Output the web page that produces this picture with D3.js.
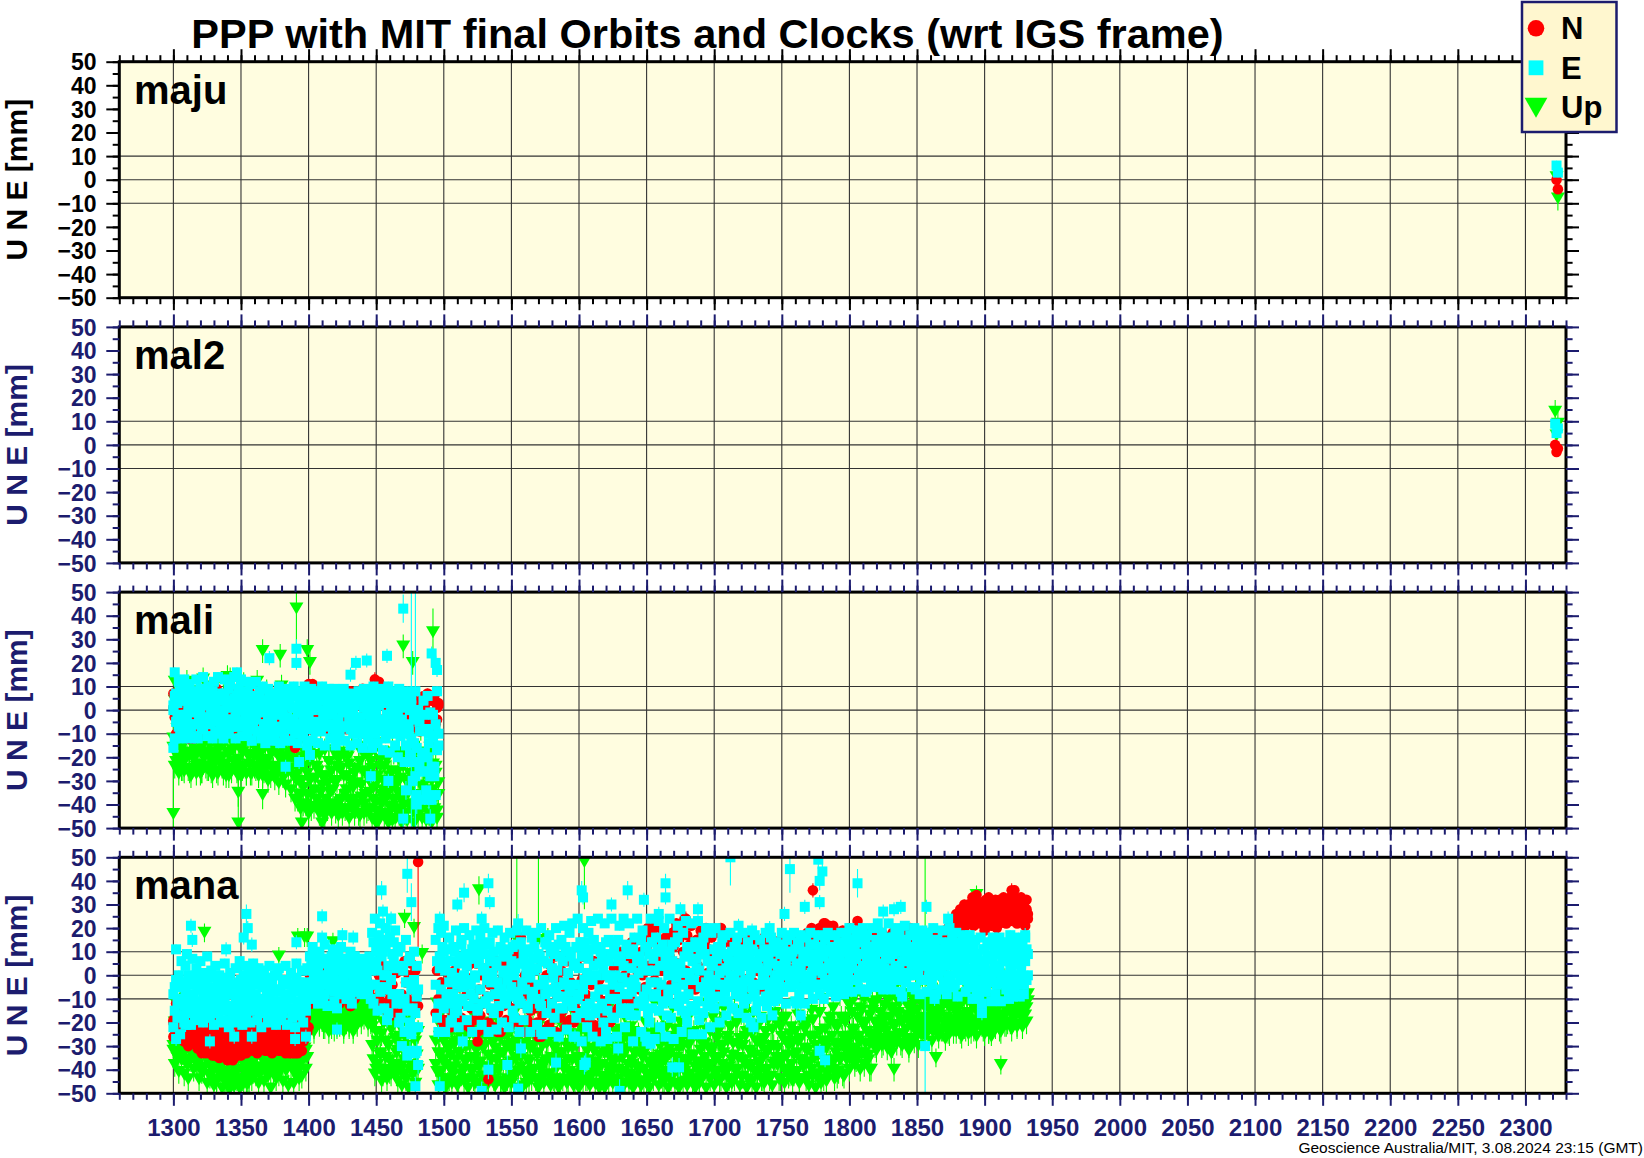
<!DOCTYPE html>
<html><head><meta charset="utf-8">
<script src="https://cdn.jsdelivr.net/npm/d3@7"></script>
<style>body{margin:0;background:#fff;}svg{display:block;font-family:"Liberation Sans",Arial,Helvetica,sans-serif;}</style>
</head><body>
<svg id="c" width="1644" height="1158"></svg>
<script>
// ---------------- DATA ----------------
const titleText = "PPP with MIT final Orbits and Clocks (wrt IGS frame)";
const footerText = "Geoscience Australia/MIT, 3.08.2024 23:15 (GMT)";
const stationNames = ["maju", "mal2", "mali", "mana"];
const xDomain = [1260, 2330];   // GPS week
const yDomain = [-50, 50];
const xTickValues = [1300,1350,1400,1450,1500,1550,1600,1650,1700,1750,1800,1850,1900,1950,2000,2050,2100,2150,2200,2250,2300];
const yTickValues = [-50,-40,-30,-20,-10,0,10,20,30,40,50];
const yGridValues = [-10, 0, 10];
const legendKeys = ["N", "E", "Up"];
const sigmaDefault = {N: 2, E: 2, U: 5};

// maju
const majuWeeks = [2323, 2324];
const majuN = [0, -4];
const majuE = [6, 3];
const majuU = [1, -8];
// mal2
const mal2Weeks = [2322, 2323, 2324];
const mal2N = [0, -3, -1.5];
const mal2E = [9, 5, 7];
const mal2U = [14, 4, 9];

// mali: two samples per week, weeks 1300..1496
const maliFirstWeek = 1300;
const maliE = [
2,-12,7,-4,12,-10,
4,-12,13,-2,8,-9,11,0,-11,6,
-6,13,-12,3,9,-8,14,-3,6,-11,
10,-5,1,-12,12,-9,5,14,-1,-10,
7,-12,13,-4,2,-10,11,-7,4,14,
-12,0,9,-6,13,-11,5,-2,12,-9,
3,11,-13,6,-4,12,-9,1,8,-12,
10,-6,-14,4,9,-11,0,-3,7,-13,
5,-9,10,-14,-2,8,-12,3,-6,9,
-13,6,-4,10,-10,1,-14,8,-7,4,
-11,10,-3,-15,6,-8,9,-13,2,-5,
8,-14,4,-9,10,-2,-15,6,-6,9,
-12,2,-8,9,-15,5,-4,-11,8,-1,
9,-13,3,-7,7,-15,0,-10,6,-4,
-14,8,-6,4,-16,9,-9,1,-12,7,
-3,-16,10,-10,5,-14,2,-7,9,-17,
6,-12,-2,10,-18,3,-8,8,-15,0,
-20,9,-11,-4,6,-22,-15,8,-8,-19,
2,-30,-14,8,-36,-22,-5,-38,-26,4,
-18,-34,6,-10,-28,-38,-2,-24,-36,8,
-15];
const maliE2 = [
0,6,-5,3,-7,8,
-2,9,-6,4,-4,1,7,-7,5,-1,
3,-6,8,-3,0,6,-7,2,9,-4,
-6,5,-1,8,-5,2,6,-3,0,-7,
4,-2,7,-6,1,9,-4,3,-7,5,
-3,6,-7,2,8,-5,0,4,-6,7,
-5,2,5,-8,0,-3,6,-9,3,-1,
1,-6,4,-9,-2,6,-4,2,-8,0,
-7,3,-1,5,-9,0,-5,6,-3,2,
4,-8,1,-4,6,-6,-1,3,-9,0,
-4,5,-8,2,-2,6,-6,0,4,-9,
2,-5,6,-8,0,-3,5,-7,3,-1,
-6,4,-2,6,-9,1,-4,5,-7,0,
3,-7,0,5,-4,-8,6,-2,2,-6,
-8,4,-3,6,-10,1,-6,5,-2,-9,
2,-7,5,-10,0,-4,6,-8,3,-5,
-9,4,-2,6,-6,0,-10,3,-4,5,
-3,6,-8,1,-10,4,-6,2,-9,0,
-12,-22,-4,-28,-16,0,-24,-9,-19,-2,
-26,-8,-20,-14,-1,-24,-11,-28,-6,-17,
-10];
const maliN = [
7,-3,-10,5,-7,2,
-4,8,-9,-1,-11,-12,6,-10,3,-5,
7,-8,0,-3,9,-6,4,-9,1,6,
-5,8,-2,-8,5,-4,9,-7,2,-1,
6,-9,3,-3,8,-6,0,7,-8,4,
-2,9,-7,5,-4,1,-9,7,-5,3,
8,-6,2,-9,6,-1,4,-8,9,-3,
-7,5,-12,8,-4,2,-9,6,-2,-11,
4,-6,9,-3,-8,5,-1,7,-10,2,
-5,8,-9,1,-15,6,-3,-10,4,-7,
3,-4,9,-8,11,-1,-6,5,-9,8,
-3,7,-7,2,-5,8,0,-8,6,-2,
7,-6,3,-9,5,-1,8,-5,2,-7,
-4,6,-8,4,-2,8,-6,1,-9,5,
2,-7,6,-3,9,-10,4,-5,7,-1,
-6,5,-2,8,-9,3,12,-4,6,-8,
4,-7,1,-3,8,-5,2,-9,6,-2,
-4,7,-8,3,-1,5,-6,2,-3,6,
-2,5,-7,3,-4,1,-9,4,-6,6,
2,-5,7,-1,-8,4,-3,6,-6,1,
3];
const maliU = [
-12,4,-22,-8,10,-16,
-25,2,-14,-21,12,-9,-26,-3,6,-19,
-12,-24,8,-5,-27,-16,13,-20,-2,-25,
4,-18,-26,-8,10,-22,-13,-27,0,-15,
-24,6,-11,-28,14,-19,-4,-26,-14,8,
-22,-9,-28,2,-17,-25,11,-13,-27,-6,
-20,-27,5,-15,-24,-10,12,-26,-2,-18,
-28,-12,-22,8,-30,-17,-5,-25,-14,-29,
0,-24,-31,-15,10,-28,-20,-32,-8,-26,
-18,-34,-6,-28,-38,-22,-12,-36,4,-30,
-40,-24,-14,-36,8,-30,-42,-20,-34,-8,
-38,-26,-44,-16,-32,-40,2,-28,-42,-22,
-35,-44,-12,-30,-40,-24,-45,-18,-38,-4,
-28,-42,-34,-20,-46,-30,-10,-38,-44,-25,
-40,-16,-45,-32,-26,-44,-36,-6,-42,-30,
-22,-46,-38,-14,-43,-30,-47,-24,-40,-34,
-45,-20,-36,-48,-28,-42,-10,-38,-46,-32,
-26,-44,-38,-48,-18,-40,-30,-47,-35,-12,
-42,-28,-48,-36,-22,-45,-40,-8,-46,-32,
-38,-47,-26,-44,-16,-48,-34,-42,-24,-46,
-36];
const maliU2 = [
-16,-24,-13,-20,-27,-15,
-22,-14,-26,-18,-12,-25,-19,-28,-15,-21,
-13,-27,-17,-23,-14,-26,-20,-12,-24,-18,
-25,-15,-21,-28,-13,-19,-26,-16,-22,-12,
-20,-27,-14,-23,-18,-28,-12,-25,-17,-22,
-15,-26,-21,-13,-28,-18,-24,-14,-27,-19,
-23,-12,-27,-19,-15,-25,-20,-28,-13,-22,
-17,-26,-14,-24,-21,-12,-28,-18,-25,-15,
-27,-19,-13,-26,-22,-16,-28,-14,-23,-20,
-14,-25,-18,-28,-21,-30,-38,-26,-42,-20,
-33,-18,-40,-27,-44,-22,-36,-16,-41,-29,
-24,-42,-19,-35,-28,-44,-17,-38,-31,-22,
-40,-26,-34,-18,-43,-30,-21,-39,-25,-44,
-19,-36,-28,-42,-23,-38,-16,-33,-27,-41,
-31,-44,-22,-37,-18,-40,-26,-43,-20,-35,
-42,-25,-33,-17,-39,-28,-44,-21,-36,-30,
-24,-38,-44,-20,-34,-26,-41,-18,-30,-43,
-35,-19,-29,-42,-24,-37,-44,-22,-32,-27,
-20,-40,-30,-44,-26,-36,-18,-42,-33,-24,
-41,-28,-36,-19,-44,-30,-23,-38,-27,-43,
-31];
// mali isolated points: [week, value, sigma]
const maliEextra = [[1301,16,2],[1300,-16,2],[1313,-12,2],[1347,16,2],[1371,22,3],[1383,-24,3],[1391,26,4],[1391,20,3],[1393,-22,3],[1401,-19,3],[1431,15,3],[1435,20,3],[1443,21,3],[1446,-28,3],[1458,23,3],[1459,-30,3],[1470,43,6],[1470,-46,4],[1472,-34,4],[1476,5,60],[1479,0,60],[1480,-40,4],[1489,-38,4],[1490,-46,4],[1491,24,3],[1494,20,3],[1495,17,3]];
const maliNextra = [[1300,1,2],[1312,-10,2],[1315,-12,2],[1371,-13,2],[1390,-16,2],[1403,11,2],[1411,8,2],[1449,13,3],[1460,8,2],[1487,6,2],[1496,2,2],[1495,-4,2]];
const maliUextra = [[1391,43,22],[1366,25,5],[1379,23,5],[1399,25,5],[1401,20,5],[1470,27,5],[1477,20,5],[1492,33,10],[1342,14,4],[1301,12,4],[1300,-44,27],[1348,-48,12],[1348,-35,6],[1366,-36,6],[1307,-25,5],[1321,-26,5],[1395,-48,20],[1410,-48,25],[1412,-45,6],[1432,-40,6],[1450,-48,6],[1462,-47,20]];

// mana: samples per week, weeks 1300..1932
const manaFirstWeek = 1300;
const manaE = [
-22,-5,11,-18,0,-25,6,
-10,-20,4,9,-15,-3,-21,7,-8,-17,
3,-12,-19,6,-6,-20,1,-14,8,-9,
-18,2,-11,-21,4,-7,-16,0,-20,-3,
-13,5,-19,-8,-22,1,-15,-4,-20,3,
-10,-17,6,-2,-21,-12,4,-18,-6,1,
-20,-9,5,-14,-1,-19,3,-11,-22,-5,
2,-16,-8,-20,4,-12,-3,-18,0,-21,
-7,3,-15,-19,-2,-11,4,-21,-9,-14,
1,-18,-6,-22,5,-12,-3,-17,2,-20,
-8,-15,3,-5,8,-10,12,0,-7,6,
-12,10,-3,5,-9,13,-1,-13,7,2,
-6,11,-11,4,-14,9,-2,12,-8,1,
7,-10,3,-5,10,-12,0,8,-7,4,
-4,6,-8,2,7,-2,4,-6,8,-10,
18,-12,24,5,-15,12,22,-5,10,-14,
20,0,-16,15,24,-8,6,19,-12,10,
-20,12,-30,2,-10,15,-34,-3,8,-25,
-14,10,-33,4,-22,null,null,null,null,null,
null,null,null,null,null,null,null,15,-18,20,
3,18,-12,10,-24,6,-8,16,-20,1,
12,-16,19,-4,-22,8,15,-10,20,-2,
-19,7,17,-8,-24,13,0,19,-14,5,
16,-21,2,20,-11,9,-24,14,-3,18,
-16,6,-23,19,-7,11,-20,1,16,-12,
8,-22,18,-5,12,-18,3,19,-10,-24,
14,-3,-19,10,19,-13,5,-24,16,-7,
2,18,-21,9,-12,20,-25,6,14,-16,
-6,17,-24,3,12,-18,20,-9,-26,8,
15,-14,21,-4,-23,10,18,-11,22,-26,
5,-18,24,-8,14,-28,20,-2,10,-22,
18,-12,23,-26,4,-16,12,24,-6,-28,
9,-20,22,0,-27,15,-10,24,-4,-18,
14,-26,6,21,-14,-1,24,-22,10,-8,
22,-17,3,-28,16,-5,24,-12,8,-24,
19,-9,-26,12,2,-20,24,-14,7,-27,
16,-3,23,-22,10,-12,20,-26,4,-8,
24,-18,6,-27,14,-5,21,-13,1,-24,
18,-10,23,-20,8,-2,22,-25,12,-15,
3,23,-19,10,-25,16,-7,20,-13,0,
-22,18,6,-14,20,-4,12,-20,2,16,
-11,17,-17,8,-3,18,-14,4,12,-8,
16,-16,2,-7,18,-12,9,-18,14,-2,
-20,11,-9,17,-15,4,-4,15,-18,8,
0,18,-13,6,-6,16,-17,10,-2,14,
-10,12,3,18,-7,8,-12,15,0,17,
-5,10,18,-11,4,14,-8,17,-1,9,
-12,16,6,-6,18,1,-10,13,7,-4,
17,-8,11,3,-10,15,-3,18,5,-7,
12,-1,17,-9,8,14,-5,18,2,-8,
10,16,-4,20,3,-7,13,7,19,-2,
15,-6,9,20,1,-7,17,5,12,-3,
20,6,-5,14,22,-1,10,18,-6,3,
16,-4,22,8,-6,13,2,20,-2,11,
19,-7,6,15,21,-3,9,0,17,-5,
12,20,-6,4,16,-8,8,19,-2,13,
-7,18,2,10,-4,20,6,-8,15,0,
11,-6,19,4,14,-8,8,20,-2,16,
-5,10,18,-9,3,14,-2,17,6,-7,
13,-4,17,1,-10,9,15,-6,5,-9,
16,-12,3,11,-7,14,-2,8,-11,16,
4,-8,12,-3,16,-11,7,0,14,-6,
10,-10,17,2,-5,13,-1,8,16,-9,
5,12,-8,16,-2,9];
const manaE2 = [
-8,-15,-2,-12,-5,-17,-10,
-3,-13,-7,-16,0,-9,-14,-4,-11,-1,
-15,-6,-2,-12,-17,-8,-4,-13,-1,-10,
-5,-14,-9,-1,-16,-11,-3,-12,-7,-15,
-2,-10,-6,-15,-1,-13,-8,-17,-4,-11,
-14,-3,-12,-7,-16,0,-9,-5,-13,-2,
-6,-15,-11,0,-8,-4,-13,-16,-2,-10,
-12,-5,-1,-14,-9,-17,-3,-7,-15,-6,
0,-11,-6,-13,-16,-4,-9,-2,-14,-8,
-10,-4,-15,-7,-1,-16,-11,-5,-13,-8,
-3,-12,-7,2,-6,5,-3,8,-8,1,
4,-5,7,-2,0,-8,6,-4,3,-6,
8,-1,-7,5,-3,2,-8,6,-5,0,
-4,7,-6,1,-8,4,-2,8,-5,3,
0,-6,5,-3,-7,3,-1,6,-4,2,
6,14,-4,10,2,17,-7,8,15,0,
12,-6,4,16,-2,9,14,-8,3,11,
-8,-18,4,-12,-24,-3,-15,6,-20,-6,
-22,-2,-16,-9,-6,null,null,null,null,null,
null,null,null,null,null,null,null,-4,6,-12,
8,-6,12,-14,2,-9,11,-3,6,-12,
-8,10,-1,-15,5,-11,13,-5,0,9,
4,-13,8,-4,11,-10,-1,7,-15,12,
-6,9,-12,3,13,-2,-9,6,-14,1,
10,-8,4,-3,-13,12,-6,8,-10,2,
-2,11,-9,6,-15,0,13,-7,5,-11,
-12,5,9,-6,1,-14,11,-1,-9,7,
12,-10,3,-4,8,-13,6,-2,-8,13,
5,-7,10,-12,-1,9,-5,2,13,-14,
-9,6,-3,12,-11,1,-7,8,-13,4,
-4,12,-10,3,-16,8,-6,14,-13,1,
7,-17,11,-2,15,-9,0,-14,5,10,
-12,3,-6,14,-15,6,-1,9,-18,12,
0,-10,15,-5,8,-16,4,-8,13,-3,
-14,9,-7,11,-2,-17,6,1,-11,15,
5,-13,12,-6,-16,9,-3,14,-9,2,
-8,11,-15,4,-4,13,-11,7,-17,0,
10,-6,13,-12,3,-1,16,-9,5,-15,
-4,8,-16,12,-8,1,-13,6,-2,14,
7,-11,2,-5,13,-16,9,-3,6,-10,
-6,4,-10,11,-2,7,-9,1,12,-4,
9,-7,3,-11,6,-1,10,-5,0,12,
-3,8,-9,5,-6,11,-2,-10,4,7,
1,-5,10,-8,6,-11,3,9,-4,-1,
11,-9,2,7,-3,-10,5,12,-6,0,
4,-2,9,0,13,-5,6,2,10,-3,
8,1,-4,11,5,-1,12,3,-5,7,
0,10,-3,6,13,-1,4,-5,9,2,
6,-4,12,1,8,-2,10,-5,3,11,
-3,7,2,12,-1,5,9,-4,13,0,
5,12,0,9,15,3,-2,11,7,14,
2,9,16,4,-1,13,7,0,11,6,
12,1,8,15,3,-2,10,5,14,0,
7,14,2,11,-1,9,16,4,12,1,
3,10,13,-2,6,15,1,8,12,5,
11,0,7,14,2,9,-2,12,5,15,
4,13,-1,8,11,2,15,6,0,10,
7,2,11,-3,5,9,0,12,-5,4,
9,-4,6,1,12,-2,8,4,11,-1,
3,10,-5,7,0,12,5,-3,9,2,
6,-2,11,4,-5,8,1,13,-3,7,
10,1,-4,9,3,12,-2,6,0,11,
-3,8,4,13,0,-5,10,5,-1,7,
2,9,-4,6,11,0];
const manaN = [
-26,-18,-12,-24,-20,-14,-25,
-20,-28,-16,-24,-30,-19,-26,-14,-29,-22,
-25,-31,-18,-28,-33,-21,-27,-16,-32,-24,
-30,-22,-34,-26,-19,-33,-28,-35,-23,-31,
-25,-34,-21,-36,-29,-18,-33,-27,-35,-24,
-30,-22,-33,-26,-19,-31,-28,-24,-32,-20,
-27,-31,-18,-25,-30,-22,-32,-17,-28,-24,
-30,-21,-26,-32,-18,-29,-24,-31,-19,-27,
-23,-32,-28,-17,-31,-25,-33,-20,-29,-26,
-31,-22,-27,-33,-18,-30,-25,-32,-20,-28,
-22,-18,-24,-8,0,-12,-4,3,-10,-2,
-6,2,-11,-3,4,-9,0,-5,-12,1,
-7,3,-10,-1,-4,2,-12,-6,4,-8,
0,-9,-3,2,-13,-5,3,-10,-1,-7,
-4,1,-3,-7,0,-6,-2,-5,-8,-4,
2,-10,5,-4,-14,0,-8,4,-12,-2,
-6,3,-16,-10,-17,-4,-13,-15,1,-9,
-12,4,-8,-15,6,-3,-10,0,-14,5,
-6,-11,2,-8,-13,null,null,null,null,null,
null,null,null,null,null,null,null,-16,2,-10,
-12,-3,-20,-8,5,-19,-14,0,-22,-6,
-16,2,-10,-21,-5,6,-18,-12,-2,-20,
-8,4,-22,-14,-1,-19,-11,5,-24,-6,
-17,0,-12,-23,3,-9,-20,-4,-15,2,
-22,-7,6,-16,-11,-24,-2,-13,4,-19,
-9,1,-21,-5,-14,8,-18,-3,-11,-20,
10,-12,-24,0,-8,-19,5,-15,-4,-22,
-14,2,-20,-26,-7,6,-17,-10,-23,0,
-12,-21,4,-6,-16,8,-24,-9,-2,-18,
2,-15,-8,-22,6,-12,-19,-3,-10,-20,
-14,-6,4,-16,-10,-2,8,-18,-8,0,
-12,-20,-4,-22,6,-16,-25,-9,-2,-24,
-18,-11,-22,0,-14,8,-20,-6,-16,3,
-8,4,-14,10,-3,-12,7,0,-9,12,
5,-10,14,-4,9,-12,2,15,-6,10,
0,16,-5,12,20,4,-8,18,8,-2,
14,6,-6,20,2,10,-8,16,4,12,
8,-4,18,12,-6,22,5,15,-2,20,
10,24,2,17,-5,13,21,0,8,-6,
15,4,-5,19,9,-2,14,20,1,11,
-4,16,8,2,18,-6,12,6,20,-1,
9,14,-5,3,16,7,-2,12,5,-6,
13,1,-4,15,8,-6,10,4,16,-1,
6,15,-3,11,2,14,-6,8,12,0,
16,4,-5,10,13,1,-2,14,7,-4,
9,2,15,-3,12,6,-5,16,3,10,
-2,13,7,16,0,11,-4,8,15,4,
12,-1,18,6,-4,20,10,3,16,-2,
14,20,4,11,22,8,17,2,21,12,
6,20,15,1,18,9,13,3,19,7,
16,4,11,20,2,14,8,18,0,12,
5,15,9,2,18,11,6,16,1,13,
8,17,3,12,15,0,10,18,6,14,
2,16,9,13,4,18,7,11,15,1,
12,5,17,8,20,3,14,10,19,6,
9,16,4,13,18,7,11,2,15,10,
14,5,18,9,12,3,16,8,17,6,
11,18,7,15,4,13,20,9,16,12,
15,20,18,24,16,22,27,19,25,21,
28,23,30,25,33,21,27,31,24,29,
22,30,26,19,32,27,24,29,21,31,
25,30,20,27,32,23,29,26,31,22,
28,24,33,30,26,36,29,22,31,27,
33,25,30,21,28,24];
const manaN2FirstWeek = 1300;
const manaN2 = [
-19,-23,-16,-22,-25,-18,-21,
-24,-20,-27,-22,-18,-26,-21,-28,-23,-25,
-29,-24,-31,-26,-22,-30,-25,-33,-27,-21,
-26,-32,-24,-29,-34,-27,-22,-31,-25,-30,
-33,-25,-29,-23,-32,-27,-35,-22,-30,-28,
-24,-31,-27,-34,-23,-29,-25,-33,-21,-30,
-29,-22,-32,-26,-24,-33,-27,-21,-31,-25,
-23,-32,-28,-24,-30,-22,-33,-26,-29,-21,
-30,-25,-22,-32,-27,-29,-21,-31,-24,-33,
-26,-33,-24,-28,-31,-22,-29,-25,-32,-23,
-27,-21];
const manaN3FirstWeek = 1877;
const manaN3 = [
18,22,26,20,24,28,21,25,30,23,
26,30,22,28,24,32,27,23,29,25,
28,23,31,25,29,22,33,26,30,24,
27,32,24,29,22,30,26,33,25,28,
30,25,29,33,23,27,31,24,32,26,
29,31,24,27,32,26];
const manaU = [
-32,-20,-12,-34,-24,-5,-30,
-18,-33,-10,-26,-36,-14,-29,-22,-35,-12,
-25,-38,-15,-31,-40,-20,-34,-10,-28,-37,
-30,-42,-18,-36,-26,-44,-33,-40,-22,-38,
-41,-28,-46,-35,-48,-24,-43,-37,-47,-31,
-44,-33,-48,-26,-40,-46,-30,-42,-36,-45,
-38,-25,-41,-32,-18,-39,-28,-42,-34,-22,
-30,-37,-20,-40,-26,-35,-15,-38,-29,-33,
-36,-24,-39,-31,-18,-37,-27,-40,-22,-34,
-28,-38,-33,-42,-20,-36,-40,-25,-34,-30,
-26,-32,-18,-14,-22,-8,-18,-24,-2,-16,
-10,-20,-4,-15,-22,-12,-18,-6,-24,-14,
-8,-19,-23,-11,-2,-17,-21,-9,-15,-24,
-13,-20,-5,-22,-16,-10,-24,-18,-7,-21,
-12,-6,-16,-9,-3,-14,-10,-17,-5,-20,
-30,-15,-42,-24,-38,-10,-34,-45,-20,-40,
-28,-44,-16,-36,-42,-22,-39,-12,-33,-45,
-26,-40,-47,-18,-36,-44,-30,-48,-14,-38,
-42,-24,-46,-34,-40,null,null,null,null,null,
null,null,null,null,null,null,null,-38,-12,-47,
-26,-41,-15,-36,-48,-30,-20,-44,-34,-46,
-18,-39,-28,-47,-33,-12,-42,-25,-45,-36,
-22,-48,-30,-40,-16,-44,-35,-27,-46,-38,
-14,-43,-31,-48,-24,-39,-46,-20,-36,-42,
-28,-47,-18,-40,-33,-45,-25,-38,-48,-30,
-44,-21,-37,-46,-29,-42,-15,-35,-48,-26,
-39,-32,-47,-20,-43,-36,-45,-24,-41,-30,
-12,-44,-34,-48,-27,-40,-18,-46,-37,-29,
-42,-22,-47,-35,-30,-45,-16,-39,-48,-33,
-25,-44,-38,-20,-46,-31,-41,-14,-36,-47,
-28,-42,-35,-48,-18,-40,-45,-30,-10,-44,
-36,-47,-22,-41,-32,-46,-26,-38,-48,-15,
-43,-30,-48,-20,-39,-45,-33,-12,-46,-37,
-24,-44,-40,-48,-29,-35,-47,-18,-42,-31,
-46,-22,-38,-48,-33,-43,-15,-40,-28,-47,
-35,-45,-20,-42,-30,-48,-25,-39,-44,-12,
-40,-28,-47,-34,-43,-18,-45,-36,-22,-48,
-31,-44,-14,-39,-46,-27,-41,-48,-20,-36,
-45,-24,-38,-47,-30,-42,-16,-44,-34,-48,
-26,-40,-46,-20,-37,-43,-29,-48,-12,-39,
-44,-32,-18,-47,-36,-41,-24,-45,-30,-38,
-14,-42,-48,-28,-39,-22,-46,-34,-44,-20,
-40,-30,-47,-16,-43,-36,-26,-48,-38,-10,
-33,-45,-22,-41,-48,-28,-38,-18,-44,-35,
-46,-24,-40,-32,-12,-43,-47,-30,-37,-20,
-38,-8,-44,-26,-35,-46,-18,-40,-30,-42,
-22,-45,-34,-12,-41,-28,-46,-36,-6,-39,
-31,-44,-20,-47,-37,-15,-43,-26,-48,-34,
-42,-24,-46,-32,-10,-40,-45,-28,-36,-18,
-38,-14,-44,-30,-22,-41,-8,-35,-26,-43,
-18,-36,-28,-40,-12,-32,-24,-38,-6,-34,
-26,-40,-15,-33,-38,-20,-8,-36,-29,-40,
-12,-28,-20,-32,-6,-24,-16,-30,-3,-22,
-18,-31,-10,-26,-33,-14,-22,-5,-29,-17,
-25,-8,-30,-19,-3,-27,-13,-32,-21,-9,
-16,-28,-6,-22,-30,-11,-25,-2,-19,-26,
-10,-24,-4,-18,-28,-14,0,-21,-8,-26,
-15,-2,-23,-11,-27,-6,-19,-25,-1,-13,
-20,-8,-24,-14,2,-18,-26,-10,-22,-4,
-16,-25,-6,-20,0,-23,-12,-26,-9,-17,
-3,-21,-14,-25,-7,-18,-24,-1,-15,-22,
-10,-20,-4,-17,-23,-8,-19,-13,-2,-21,
-14,-6,-20,2,-11,-17,-4,-22,-9,-15,
-7,-18,-11,-3,-14,-8];
const manaU2 = [
-30,-38,-27,-35,-41,-29,-36,
-33,-42,-29,-38,-44,-31,-36,-28,-40,-34,
-37,-30,-44,-33,-41,-28,-39,-35,-46,-31,
-43,-34,-40,-47,-30,-45,-37,-32,-42,-48,
-36,-45,-31,-42,-38,-48,-34,-44,-40,-29,
-41,-35,-47,-30,-44,-38,-33,-46,-39,-43,
-32,-44,-37,-29,-42,-34,-46,-31,-40,-36,
-45,-30,-39,-43,-33,-48,-36,-41,-29,-44,
-34,-42,-28,-38,-45,-31,-40,-35,-47,-32,
-39,-33,-46,-30,-41,-37,-44,-29,-43,-36,
-31,-40,-35,-18,-13,-20,-15,-22,-12,-19,
-16,-21,-13,-19,-14,-22,-17,-12,-20,-15,
-22,-14,-18,-12,-21,-16,-13,-20,-17,-22,
-15,-19,-12,-21,-14,-18,-22,-13,-20,-16,
-17,-12,-20,-14,-18,-11,-16,-21,-13,-19,
-22,-36,-18,-40,-28,-15,-33,-25,-42,-20,
-35,-17,-30,-41,-23,-38,-19,-27,-42,-32,
-38,-22,-30,-16,-42,-27,-35,-20,-40,-25,
-18,-33,-28,-39,-24,null,null,null,null,null,
null,null,null,null,null,null,null,-28,-41,-33,
-34,-22,-44,-28,-38,-25,-46,-31,-40,-24,
-42,-29,-36,-23,-45,-33,-27,-40,-22,-37,
-30,-44,-25,-35,-41,-23,-46,-32,-28,-39,
-37,-24,-43,-30,-26,-45,-34,-22,-41,-28,
-44,-31,-36,-23,-40,-27,-46,-33,-25,-38,
-26,-39,-45,-32,-22,-43,-35,-28,-41,-24,
-35,-23,-41,-29,-46,-26,-37,-31,-44,-22,
-40,-27,-33,-45,-24,-38,-30,-43,-25,-36,
-28,-42,-24,-37,-44,-31,-39,-26,-35,-46,
-33,-22,-40,-29,-36,-45,-25,-42,-31,-27,
-45,-30,-25,-38,-42,-23,-35,-28,-44,-32,
-26,-39,-43,-31,-24,-37,-41,-29,-34,-46,
-38,-25,-33,-44,-30,-22,-42,-36,-27,-40,
-31,-45,-28,-35,-23,-41,-32,-46,-26,-38,
-42,-27,-36,-24,-44,-30,-39,-25,-45,-33,
-29,-40,-32,-46,-26,-37,-43,-28,-35,-23,
-36,-24,-42,-30,-38,-45,-27,-33,-41,-29,
-44,-33,-26,-40,-23,-35,-46,-31,-38,-27,
-30,-41,-36,-25,-43,-28,-34,-45,-24,-39,
-37,-26,-44,-32,-29,-42,-35,-23,-40,-31,
-24,-38,-31,-16,-42,-27,-35,-20,-44,-30,
-33,-18,-40,-26,-44,-22,-36,-29,-15,-41,
-20,-35,-27,-43,-30,-17,-38,-24,-44,-32,
-39,-25,-16,-34,-28,-42,-21,-37,-30,-44,
-27,-41,-33,-19,-44,-30,-23,-38,-16,-35,
-31,-44,-22,-36,-18,-40,-28,-34,-43,-25,
-38,-29,-42,-24,-33,-17,-44,-27,-36,-21,
-23,-37,-32,-43,-26,-40,-19,-35,-30,-42,
-34,-16,-39,-28,-44,-23,-31,-41,-20,-37,
-26,-40,-21,-33,-43,-29,-36,-18,-42,-31,
-20,-30,-12,-26,-34,-16,-23,-9,-31,-18,
-28,-14,-33,-21,-10,-29,-24,-34,-17,-26,
-15,-25,-30,-11,-22,-27,-8,-19,-29,-13,
-24,-10,-28,-18,-14,-30,-21,-9,-26,-16,
-12,-29,-20,-25,-8,-23,-17,-30,-14,-27,
-19,-11,-24,-15,-21,-9,-18,-23,-13,-20,
-22,-14,-10,-20,-16,-24,-12,-19,-23,-9,
-17,-23,-12,-20,-9,-18,-24,-14,-21,-11,
-24,-15,-19,-10,-22,-13,-20,-8,-17,-23,
-11,-21,-16,-24,-13,-19,-9,-22,-15,-20,
-18,-9,-23,-14,-20,-11,-24,-16,-12,-21,
-15,-22,-10,-19,-13,-24,-17,-9,-21,-14,
-20,-12,-16,-23,-8,-18,-14,-21,-10,-17,
-13,-22,-9,-17,-20,-11];
// mana isolated points: [week, value, sigma]
const manaEextra = [[1313,21,3],[1314,15,3],[1339,11,3],[1354,26,4],[1355,20,3],[1352,16,3],[1358,13,3],[1302,-27,3],[1309,-21,3],[1327,-28,3],[1345,-26,3],[1358,-26,3],[1390,-27,3],[1398,-26,3],[1410,25,3],[1410,16,3],[1391,14,3],[1425,17,3],[1433,16,3],[1421,-23,3],[1454,36,4],[1473,43,8],[1476,31,8],[1455,27,3],[1461,24,3],[1458,-19,3],[1475,-32,4],[1481,-38,4],[1480,-32,4],[1479,-47,4],[1497,24,3],[1500,21,3],[1515,35,4],[1510,30,3],[1533,39,4],[1534,31,3],[1528,24,3],[1555,22,4],[1602,36,4],[1496,-24,3],[1497,-47,4],[1528,-49,4],[1555,-48,4],[1547,-38,4],[1533,-40,4],[1557,-31,4],[1514,-28,3],[1506,-19,3],[1572,-24,3],[1583,-37,4],[1597,-26,3],[1605,-37,4],[1603,33,3],[1624,30,3],[1636,36,4],[1648,32,3],[1604,-38,4],[1630,-49,5],[1629,-31,3],[1620,-24,3],[1664,39,4],[1664,33,3],[1675,28,3],[1688,28,3],[1659,26,3],[1669,-39,4],[1674,-39,4],[1653,-29,3],[1650,-28,3],[1712,50,12],[1718,21,3],[1728,19,3],[1741,20,3],[1752,26,3],[1756,45,10],[1767,29,3],[1777,49,4],[1780,44,4],[1778,40,4],[1778,31,3],[1714,-14,3],[1729,-22,3],[1744,-11,3],[1761,-12,3],[1764,-17,3],[1778,-32,3],[1782,-36,3],[1806,39,6],[1796,-7,3],[1813,-6,3],[1825,27,3],[1833,28,3],[1838,29,3],[1857,29,3],[1839,-9,3],[1863,-10,3],[1873,24,3],[1930,17,3],[1898,-16,3],[1921,-9,3],[1895,-9,3],[1856,-30,22]];
const manaNextra = [[1344,-36,2],[1338,-33,2],[1328,-30,2],[1392,-33,2],[1400,-22,2],[1300,-20,2],[1308,-24,2],[1417,-6,2],[1431,-13,2],[1440,-4,2],[1445,-6,2],[1461,-16,2],[1465,-14,2],[1481,48,37],[1500,-19,2],[1515,-21,2],[1525,-28,2],[1533,-44,3],[1540,-24,2],[1572,-26,2],[1592,-20,2],[1602,-16,2],[1557,16,2],[1616,-25,2],[1611,-21,2],[1619,-11,2],[1679,24,3],[1672,20,2],[1654,21,2],[1704,18,2],[1728,14,2],[1771,-3,2],[1773,36,3],[1782,22,2],[1788,21,2],[1806,23,2],[1845,20,2],[1920,36,3],[1926,32,2],[1894,34,2],[1888,29,2],[1882,24,2],[1904,30,2],[1913,31,2],[1931,26,2]];
const manaUextra = [[1323,18,4],[1378,8,4],[1392,16,4],[1397,16,4],[1345,-47,5],[1355,-46,5],[1339,-44,5],[1392,-39,5],[1378,-35,5],[1323,-31,5],[1305,-30,5],[1412,-18,4],[1421,-23,4],[1433,-20,4],[1403,-14,4],[1399,16,4],[1418,14,4],[1471,24,4],[1478,20,4],[1526,36,6],[1484,9,4],[1604,48,20],[1577,16,4],[1554,15,40],[1570,15,40],[1856,10,40],[1805,-36,5],[1815,-40,5],[1833,-40,5],[1882,-25,4],[1905,-26,4],[1913,-19,4],[1929,-11,4],[1856,-21,4],[1894,34,4],[1864,-35,4],[1912,-38,4]];

// ---------------- DRAWING ----------------
const NAVY = "#1c1c6e";
const COL = {N: "#ff0000", E: "#00ffff", U: "#00ff00"};
const X0 = 119.3, X1 = 1566, PANEL_H = 236, PANEL_TOP0 = 61.7, PANEL_STEP = 265.2;
const svg = d3.select("#c");
const x = d3.scaleLinear().domain(xDomain).range([X0, X1]);

function weekly(first, vals) { const out = []; vals.forEach((v, i) => { if (v !== null) out.push({d: first + i, v: v, s: null}); }); return out; }
function listed(weeks, vals) { return weeks.map((d, i) => ({d: d, v: vals[i], s: null})).filter(p => p.v !== null); }
function extras(arr) { return arr.map(a => ({d: a[0], v: a[1], s: a[2]})); }

const panels = [
  {N: listed(majuWeeks, majuN), E: listed(majuWeeks, majuE), U: listed(majuWeeks, majuU)},
  {N: listed(mal2Weeks, mal2N), E: listed(mal2Weeks, mal2E), U: listed(mal2Weeks, mal2U)},
  {N: weekly(maliFirstWeek, maliN).concat(extras(maliNextra)),
   E: weekly(maliFirstWeek, maliE).concat(weekly(maliFirstWeek, maliE2), extras(maliEextra)),
   U: weekly(maliFirstWeek, maliU).concat(weekly(maliFirstWeek, maliU2), extras(maliUextra))},
  {N: weekly(manaFirstWeek, manaN).concat(weekly(manaN2FirstWeek, manaN2), weekly(manaN3FirstWeek, manaN3), extras(manaNextra)),
   E: weekly(manaFirstWeek, manaE).concat(weekly(manaFirstWeek, manaE2), extras(manaEextra)),
   U: weekly(manaFirstWeek, manaU).concat(weekly(manaFirstWeek, manaU2), extras(manaUextra))}
];

const triPath = "M-7,-6L7,-6L0,6Z";

function styleAxis(sel, col) {
  sel.select(".domain").remove();
  sel.selectAll(".tick line").attr("stroke", col).attr("stroke-width", 2);
  sel.attr("font-family", null).attr("font-size", null);
}

panels.forEach((p, i) => {
  const top = PANEL_TOP0 + i * PANEL_STEP, bot = top + PANEL_H;
  const y = d3.scaleLinear().domain(yDomain).range([bot, top]);
  const col = i === 0 ? "#000" : NAVY;
  const g = svg.append("g");
  g.append("rect").attr("x", X0).attr("y", top).attr("width", X1 - X0).attr("height", PANEL_H).attr("fill", "#fffde0");
  g.append("g").selectAll("line").data(xTickValues).join("line")
    .attr("x1", d => x(d)).attr("x2", d => x(d)).attr("y1", top).attr("y2", bot)
    .attr("stroke", "#333").attr("stroke-width", 1.1);
  g.append("g").selectAll("line").data(yGridValues).join("line")
    .attr("x1", X0).attr("x2", X1).attr("y1", d => y(d)).attr("y2", d => y(d))
    .attr("stroke", "#333").attr("stroke-width", 1.1);

  const cid = "clip" + i;
  svg.append("clipPath").attr("id", cid).append("rect").attr("x", X0).attr("y", top).attr("width", X1 - X0).attr("height", PANEL_H);
  const dg = g.append("g").attr("clip-path", "url(#" + cid + ")");
  ["U", "N", "E"].forEach(k => {
    const pts = p[k];
    const sg = dg.append("g");
    sg.append("g").selectAll("line").data(pts).join("line")
      .attr("x1", d => x(d.d)).attr("x2", d => x(d.d))
      .attr("y1", d => y(d.v - (d.s === null ? sigmaDefault[k] : d.s)))
      .attr("y2", d => y(d.v + (d.s === null ? sigmaDefault[k] : d.s)))
      .attr("stroke", COL[k]).attr("stroke-width", 1.1);
    const mg = sg.append("g").attr("fill", COL[k]);
    if (k === "N") {
      mg.selectAll("circle").data(pts).join("circle").attr("cx", d => x(d.d)).attr("cy", d => y(d.v)).attr("r", 5.3);
    } else if (k === "E") {
      mg.selectAll("rect").data(pts).join("rect").attr("x", d => x(d.d) - 5).attr("y", d => y(d.v) - 5).attr("width", 10).attr("height", 10);
    } else {
      mg.selectAll("path").data(pts).join("path").attr("d", triPath).attr("transform", d => "translate(" + x(d.d) + "," + y(d.v) + ")");
    }
  });

  g.append("rect").attr("x", X0).attr("y", top).attr("width", X1 - X0).attr("height", PANEL_H)
    .attr("fill", "none").attr("stroke", "#000").attr("stroke-width", 3);

  const minorX = d3.range(xDomain[0], xDomain[1] + 1, 10);
  const minorY = d3.range(yDomain[0], yDomain[1] + 1, 5);
  g.append("g").attr("transform", "translate(0," + top + ")").call(d3.axisTop(x).tickValues(minorX).tickSize(6.5).tickFormat("")).call(s => styleAxis(s, col));
  g.append("g").attr("transform", "translate(0," + top + ")").call(d3.axisTop(x).tickValues(xTickValues).tickSize(12.5).tickFormat("")).call(s => styleAxis(s, col));
  g.append("g").attr("transform", "translate(0," + bot + ")").call(d3.axisBottom(x).tickValues(minorX).tickSize(6.5).tickFormat("")).call(s => styleAxis(s, col));
  const ab = g.append("g").attr("transform", "translate(0," + bot + ")")
    .call(d3.axisBottom(x).tickValues(xTickValues).tickSize(12.5).tickFormat(i === 3 ? d3.format("d") : ""))
    .call(s => styleAxis(s, col));
  if (i === 3) {
    ab.selectAll("text").attr("y", 1135.7 - bot).attr("dy", null)
      .attr("font-size", 24).attr("font-weight", "bold").attr("fill", NAVY);
  }
  g.append("g").attr("transform", "translate(" + X0 + ",0)").call(d3.axisLeft(y).tickValues(minorY).tickSize(6.6).tickFormat("")).call(s => styleAxis(s, col));
  const al = g.append("g").attr("transform", "translate(" + X0 + ",0)")
    .call(d3.axisLeft(y).tickValues(yTickValues).tickSize(13).tickFormat(d3.format("d")))
    .call(s => styleAxis(s, col));
  al.selectAll("text").attr("x", 96.5 - X0).attr("dy", "0.36em")
    .attr("font-size", 23).attr("font-weight", "bold").attr("fill", col);
  g.append("g").attr("transform", "translate(" + X1 + ",0)").call(d3.axisRight(y).tickValues(minorY).tickSize(6.6).tickFormat("")).call(s => styleAxis(s, col));
  g.append("g").attr("transform", "translate(" + X1 + ",0)").call(d3.axisRight(y).tickValues(yTickValues).tickSize(13).tickFormat("")).call(s => styleAxis(s, col));

  g.append("text").attr("transform", "translate(27," + ((top + bot) / 2) + ") rotate(-90)")
    .attr("text-anchor", "middle").attr("font-size", 30).attr("font-weight", "bold").attr("fill", col)
    .text("U N E [mm]");
  g.append("text").attr("x", 134).attr("y", top + 42).attr("font-size", 40).attr("font-weight", "bold").attr("fill", "#000")
    .text(stationNames[i]);
});

// title
svg.append("text").attr("x", 707.5).attr("y", 48).attr("text-anchor", "middle")
  .attr("font-size", 41.5).attr("font-weight", "bold").attr("fill", "#000").text(titleText);

// legend
const lg = svg.append("g");
lg.append("rect").attr("x", 1522).attr("y", 2).attr("width", 94.5).attr("height", 130)
  .attr("fill", "#fff7cf").attr("stroke", NAVY).attr("stroke-width", 2.5);
legendKeys.forEach((k, j) => {
  const cy = 28.3 + j * 39.5;
  if (j === 0) lg.append("circle").attr("cx", 1536).attr("cy", cy).attr("r", 8.3).attr("fill", COL.N);
  if (j === 1) lg.append("rect").attr("x", 1528.6).attr("y", cy - 7.4).attr("width", 14.8).attr("height", 14.8).attr("fill", COL.E);
  if (j === 2) lg.append("path").attr("d", "M-11.4,-9.6L11.4,-9.6L0,10.4Z").attr("transform", "translate(1536," + cy + ")").attr("fill", COL.U);
  lg.append("text").attr("x", 1561).attr("y", cy + 11).attr("font-size", 31).attr("font-weight", "bold").attr("fill", "#000").text(k);
});

// footer
svg.append("text").attr("x", 1643).attr("y", 1153).attr("text-anchor", "end")
  .attr("font-size", 15.5).attr("fill", "#000").text(footerText);
</script>
</body></html>
